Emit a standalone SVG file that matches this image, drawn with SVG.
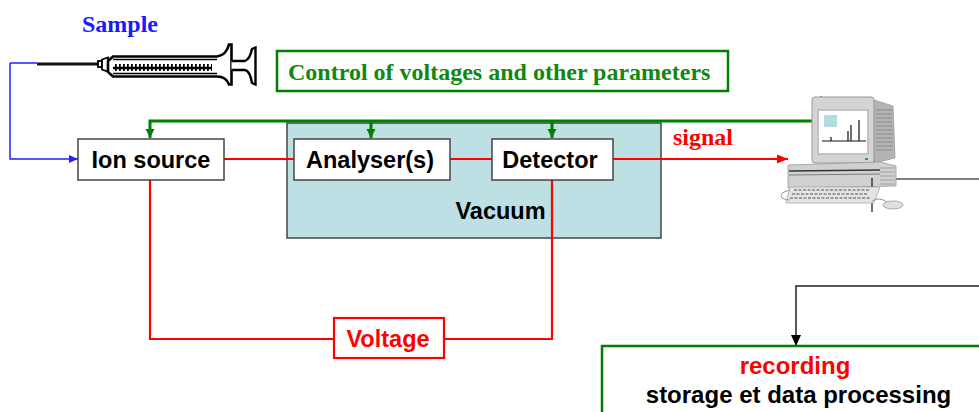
<svg xmlns="http://www.w3.org/2000/svg" width="979" height="412" viewBox="0 0 979 412">
<style>
.box{fill:#fff;stroke:#444;stroke-width:1.5}
.lbl{font-family:"Liberation Sans",Arial,sans-serif;font-weight:bold;font-size:23.5px;fill:#000;text-anchor:middle}
.ser{font-family:"Liberation Serif","Times New Roman",serif;font-weight:bold;font-size:24px}
.red{stroke:#ff0000;stroke-width:2.2;fill:none}
.grn{stroke:#008000;stroke-width:3;fill:none}
</style>
<defs>
<marker id="ag" markerUnits="userSpaceOnUse" markerWidth="10" markerHeight="10" refX="9" refY="5" orient="auto"><path d="M0,0.5 L9,5 L0,9.5 Z" fill="#008000"/></marker>
<marker id="ar" markerUnits="userSpaceOnUse" markerWidth="12" markerHeight="10" refX="11" refY="5" orient="auto"><path d="M0,0.5 L11,5 L0,9.5 Z" fill="#ff0000"/></marker>
<marker id="ab" markerUnits="userSpaceOnUse" markerWidth="10" markerHeight="10" refX="9" refY="5" orient="auto"><path d="M0,1 L9,5 L0,9 Z" fill="#2222ff"/></marker>
<marker id="ak" markerUnits="userSpaceOnUse" markerWidth="12" markerHeight="12" refX="11" refY="6" orient="auto"><path d="M0,1 L11,6 L0,11 Z" fill="#000"/></marker>
</defs>

<!-- Sample syringe -->
<g id="sample">
<text class="ser" x="120" y="32" text-anchor="middle" fill="#1a1aff">Sample</text>
<line x1="37" y1="64" x2="99" y2="64" stroke="#111" stroke-width="2.8"/>
<rect x="98" y="61" width="4" height="6" fill="#fff" stroke="#000" stroke-width="1.8"/>
<path d="M102 59.5 L108 57.5 L108 71.5 L102 69.5 Z" fill="#fff" stroke="#000" stroke-width="1.8"/>
<path d="M108 61 L113 56.5 L217 56.5 Q226 55.5 229 44.5 L231.5 44.5 L231.5 84.5 L229 84.5 Q226 76.5 217 76.5 L113 76.5 L108 72 Z" fill="#fff" stroke="#000" stroke-width="2.6"/>
<line x1="113" y1="59.5" x2="217" y2="59.5" stroke="#000" stroke-width="1.4"/>
<line x1="113" y1="73.5" x2="217" y2="73.5" stroke="#000" stroke-width="1.4"/>
<line x1="115" y1="67.5" x2="212" y2="67.5" stroke="#000" stroke-width="7" stroke-dasharray="1.8 2.2"/>
<line x1="113" y1="68" x2="212" y2="68" stroke="#000" stroke-width="2.4"/>
<path d="M231.5 61 L245 61 Q250 59 252 49 L255.5 47.5 L255.5 84.5 L252 83 Q250 71 245 70 L231.5 70" fill="#fff" stroke="#000" stroke-width="2.4"/>
</g>

<!-- Control box -->
<g id="control">
<rect x="277" y="51" width="451" height="40" fill="#fff" stroke="#008000" stroke-width="2.5"/>
<text class="ser" x="288" y="80" fill="#118811">Control of voltages and other parameters</text>
</g>

<!-- Vacuum -->
<g id="vacuum">
<rect x="287" y="123" width="374" height="115" fill="#bce0e3" stroke="#444" stroke-width="1.5"/>
<text class="lbl" x="500.5" y="219">Vacuum</text>
</g>

<!-- Connectors -->
<g id="connectors">
<path d="M10 63 H37 M10 63 V159 H78" stroke="#2222ff" stroke-width="1.5" fill="none" marker-end="url(#ab)"/>
<path d="M813 121 H150 V138" class="grn" marker-end="url(#ag)"/>
<path d="M371 121 V138" class="grn" stroke-width="2" marker-end="url(#ag)"/>
<path d="M552 121 V138" class="grn" stroke-width="2" marker-end="url(#ag)"/>
<path d="M224 159 H294 M450 159 H492" class="red"/>
<path d="M613 159 H788" class="red" marker-end="url(#ar)"/>
<path d="M150 180 V339 H334" class="red"/>
<path d="M444 339 H552 V180" class="red"/>
<path d="M979 286 H796 V346" stroke="#222" stroke-width="1.5" fill="none" marker-end="url(#ak)"/>
<line x1="872" y1="179" x2="979" y2="179" stroke="#555" stroke-width="1.5"/>
<text class="ser" x="673" y="145" fill="#ff0000">signal</text>
</g>

<g id="ion-source">
<rect class="box" x="78" y="139" width="146" height="41"/>
<text class="lbl" x="151" y="168">Ion source</text>
</g>
<g id="analyser">
<rect class="box" x="294" y="139" width="156" height="41"/>
<text class="lbl" x="370" y="168">Analyser(s)</text>
</g>
<g id="detector">
<rect class="box" x="492" y="139" width="121" height="41"/>
<text class="lbl" x="550" y="168">Detector</text>
</g>
<g id="voltage">
<rect x="334" y="318" width="110" height="40" fill="#fff" stroke="#ff0000" stroke-width="2.2"/>
<text class="lbl" x="388" y="347" style="fill:#ff0000">Voltage</text>
</g>

<!-- Computer -->
<g id="computer">
<line x1="820" y1="99.5" x2="843" y2="99.5" stroke="#008000" stroke-width="2.5"/>
<path d="M814 99.5 L822 96 L822 103 Z" fill="#008000"/>
<path d="M874 100 L893 106 L895 158 L874 163 Z" fill="#b4b4b4" stroke="#999" stroke-width="0.8"/>
<path d="M876 110 H892 M876 114 H892 M876 118 H892 M876 122 H892 M876 126 H892 M876 130 H893 M876 134 H893 M876 138 H893 M876 142 H893 M876 146 H893 M876 150 H893" stroke="#8a8a8a" stroke-width="1"/>
<rect x="812" y="97" width="62" height="66" rx="3" fill="#d4d4d4" stroke="#9a9a9a" stroke-width="1"/>
<rect x="817" y="109" width="52" height="46" fill="#c2c2c2"/>
<rect x="819" y="111" width="48" height="42" fill="#fff"/>
<rect x="824" y="115" width="13" height="12" fill="#b4dce0"/>
<path d="M822 141 H866 M831 141 V137 M848 141 V131 M851 141 V125 M859 141 V120" stroke="#111" stroke-width="1.2" fill="none"/>
<rect x="865" y="158" width="3" height="2" fill="#2a2"/>
<path d="M788 165 L880 162 L896 166 L896 186 L788 188 Z" fill="#d0d0d0" stroke="#999" stroke-width="0.8"/>
<line x1="789" y1="171" x2="880" y2="170" stroke="#333" stroke-width="1.3"/>
<line x1="789" y1="175" x2="880" y2="174" stroke="#666" stroke-width="0.8"/>
<path d="M880 168 H895 M880 172 H895 M880 176 H895 M880 180 H895 M880 184 H895" stroke="#999" stroke-width="0.8"/>
<line x1="872" y1="178" x2="872" y2="212" stroke="#111" stroke-width="1.2"/>
<path d="M790 187 L880 187 L874 203 L786 203 Z" fill="#e4e4e4" stroke="#aaa" stroke-width="0.8"/>
<path d="M794 190 H870 M792 194 H868 M790 198 H870" stroke="#9a9a9a" stroke-width="2" stroke-dasharray="3 1.5"/>
<path d="M790 190 Q778 193 782 198 Q786 200 790 200" fill="none" stroke="#999" stroke-width="1"/>
<path d="M872 201 Q880 196 888 203" fill="none" stroke="#999" stroke-width="1"/>
<ellipse cx="893" cy="205" rx="10" ry="4" fill="#e0e0e0" stroke="#999" stroke-width="0.8"/>
</g>

<g id="recording">
<rect x="602" y="346" width="400" height="100" fill="#fff" stroke="#008000" stroke-width="2.5"/>
<text class="lbl" x="795" y="374" style="font-size:24px;fill:#ff0000">recording</text>
<text class="lbl" x="798.5" y="403" style="font-size:24px">storage et data processing</text>
</g>
</svg>
